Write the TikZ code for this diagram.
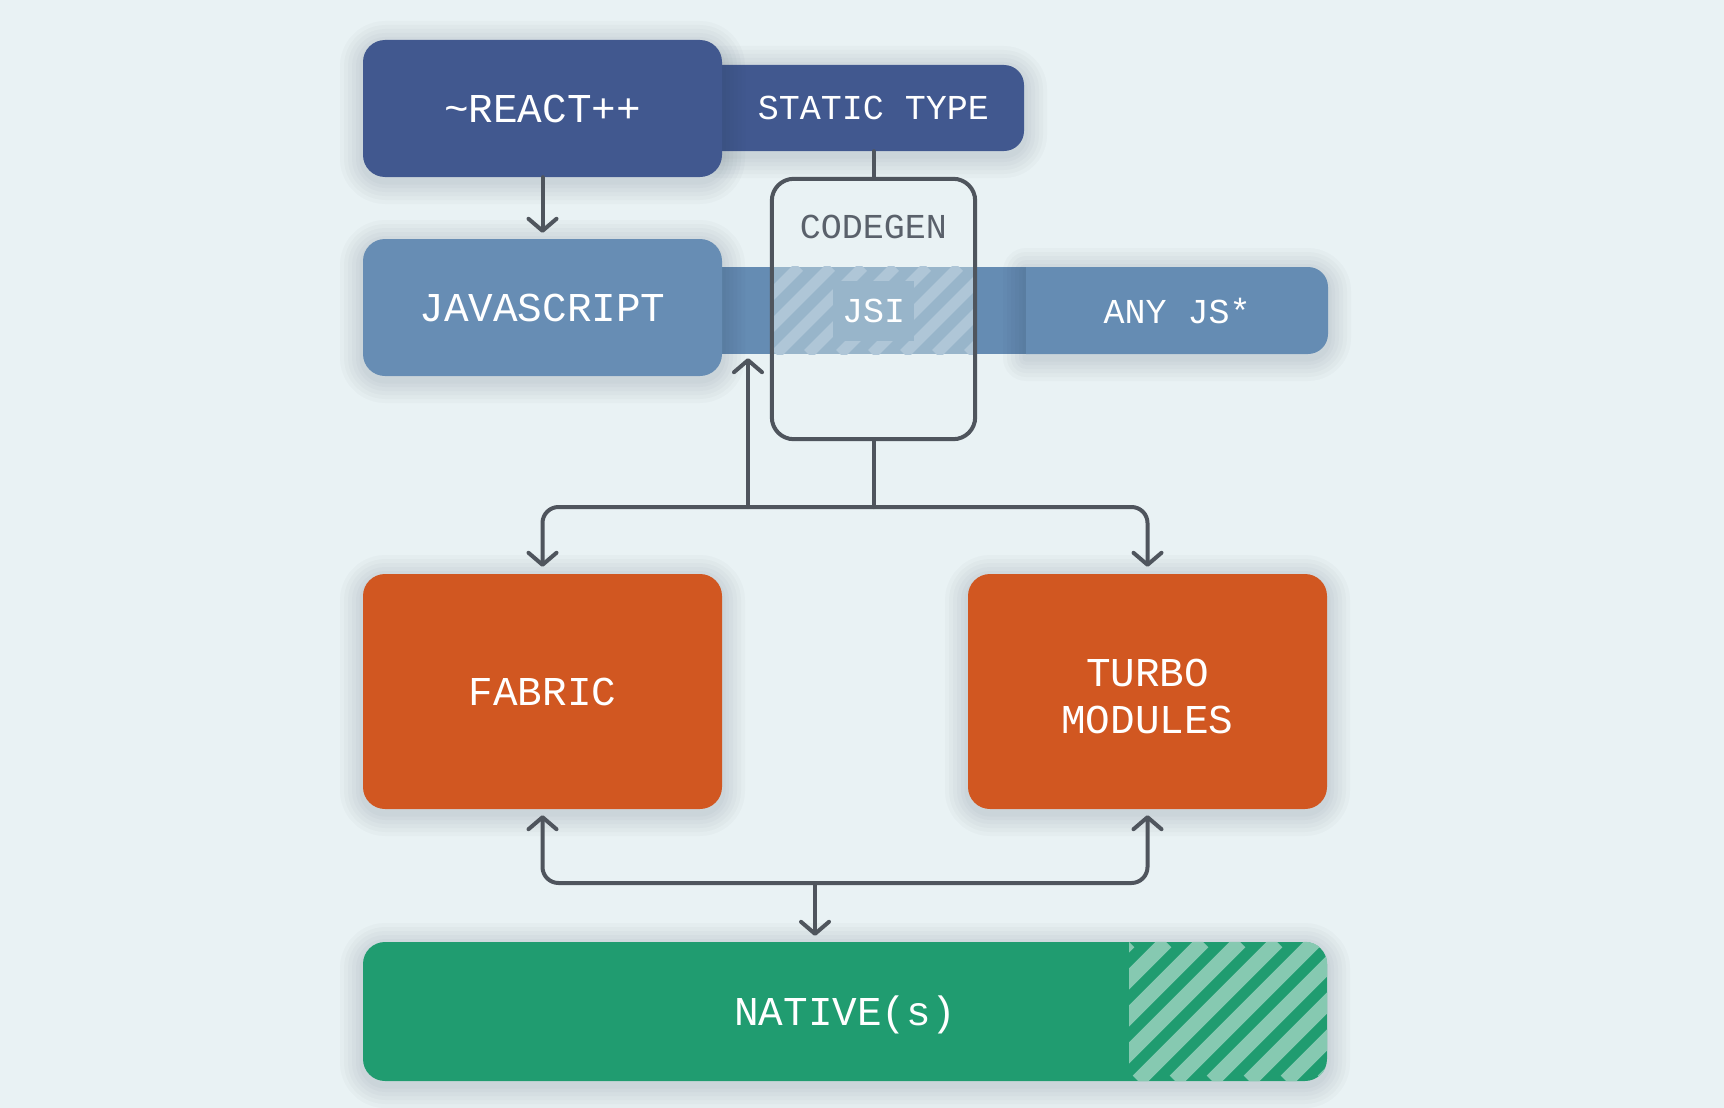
\documentclass[tikz,border=0pt]{standalone}
\usepackage{fontspec}
\setmonofont{Liberation Mono}
\usetikzlibrary{arrows.meta}
\definecolor{bgc}{HTML}{E9F2F4}
\definecolor{reactc}{HTML}{41588F}
\definecolor{jsc}{HTML}{678DB4}
\definecolor{barc}{HTML}{658CB3}
\definecolor{orangec}{HTML}{D15721}
\definecolor{greenc}{HTML}{209C70}
\definecolor{greenl}{HTML}{86C9B1}
\definecolor{jsib}{HTML}{98B5CA}
\definecolor{jsil}{HTML}{AFC6D7}
\definecolor{linec}{HTML}{4F555D}
\definecolor{greytxt}{HTML}{5A616B}
\definecolor{shadc}{HTML}{1E3040}
\newcommand{\bigtxt}{\fontsize{41}{46}\selectfont\ttfamily}
\newcommand{\smalltxt}{\fontsize{35}{42}\selectfont\ttfamily}
\tikzset{
 shadlayer/.style={preaction={draw=shadc, draw opacity=.025, line width=#1, line join=round, transform canvas={yshift=-4pt}}},
 shad/.style={shadlayer=46pt, shadlayer=38pt, shadlayer=30pt, shadlayer=22pt, shadlayer=14pt, shadlayer=7pt},
 bigbox/.style={shad, rounded corners=22pt, inner sep=0pt, text=white, font=\bigtxt, align=center},
 barbox/.style={shad, rounded corners=20pt, inner sep=0pt, text=white, font=\smalltxt},
 conn/.style={draw=linec, line width=4pt, line cap=round, line join=round},
 arrowtip/.style={-{Straight Barb[length=12pt,width=28pt,round]}},
}
\begin{document}
\begin{tikzpicture}[x=1pt,y=-1pt]
\useasboundingbox[fill=bgc] (0,0) rectangle (1724,1108);
% top row
\node[barbox, fill=reactc, minimum width=324pt, minimum height=86pt] (staticbar) at (862,108) {};
\node[font=\smalltxt, text=white] (static) at (873.5,108) {STATIC TYPE};
\node[bigbox, fill=reactc, minimum width=359pt, minimum height=137pt] (react) at (542.5,108.5) {\textasciitilde REACT++};
% js row
\node[fill=barc, minimum width=330pt, minimum height=87pt, inner sep=0pt] (jsibar) at (865,310.5) {};
\path[shad, fill=barc] (1026,267) [rounded corners=20pt] -- (1328,267) -- (1328,354) [sharp corners] -- (1026,354) -- cycle;
\node[minimum width=302pt, minimum height=87pt, inner sep=0pt, text=white, font=\smalltxt] (anyjs) at (1177,310.5) {ANY JS*};
\node[bigbox, fill=jsc, minimum width=359pt, minimum height=137pt] (javascript) at (542.5,307.5) {JAVASCRIPT};
% codegen
\node[fill=bgc, rounded corners=22pt, minimum width=203pt, minimum height=260pt, inner sep=0pt] (codegen) at (873.5,309) {};
\begin{scope}
\clip (codegen.west |- jsibar.north) rectangle (codegen.east |- jsibar.south);
\fill[jsib] (codegen.west |- jsibar.north) rectangle (codegen.east |- jsibar.south);
\foreach \i in {0,...,10} \draw[jsil, line width=11pt] (680+\i*32,354) -- ++(87,-87);
\end{scope}
\node[fill=jsib, inner xsep=9pt, minimum height=60pt, font=\smalltxt, text=white] (jsi) at (873.5,310.5) {JSI};
\node[font=\smalltxt, text=greytxt] (codegentxt) at (873.5,226.5) {CODEGEN};
\draw[linec, line width=4pt, rounded corners=22pt] (codegen.north west) rectangle (codegen.south east);
% bottom boxes
\node[bigbox, fill=orangec, minimum width=359pt, minimum height=235pt] (fabric) at (542.5,691.5) {FABRIC};
\node[bigbox, fill=orangec, minimum width=359pt, minimum height=235pt] (turbo) at (1147.5,691.5) {\rule{0pt}{38pt}TURBO\\[1pt]MODULES};
\node[bigbox, fill=greenc, minimum width=964pt, minimum height=139pt, text height=27pt, text depth=0pt] (native) at (845,1011.5) {NATIVE(s)};
\begin{scope}
\clip[rounded corners=22pt] (native.north west) rectangle (native.south east);
\clip (1129,930) rectangle (1340,1090);
\foreach \i in {0,...,10} \draw[greenl, line width=15pt] (990+\i*37,1081) -- ++(139,-139);
\end{scope}
% connectors
\coordinate (hub) at (873.5,507);
\coordinate (upfoot) at (748,507);
\coordinate (nhub) at (815,883);
\draw[conn] (staticbar.south -| static) -- (codegen.north);
\draw[conn, arrowtip, shorten >=6pt] (react.south) -- (javascript.north);
\draw[conn] (codegen.south) -- (hub);
\draw[conn, arrowtip, rounded corners=16pt, shorten >=7pt] (hub) -| (fabric.north);
\draw[conn, arrowtip, rounded corners=16pt, shorten >=7pt] (hub) -| (turbo.north);
\draw[conn, arrowtip, shorten >=4pt] (upfoot) -- (upfoot |- jsibar.south);
\draw[conn, arrowtip, rounded corners=16pt, shorten >=6pt] (nhub) -| (fabric.south);
\draw[conn, arrowtip, rounded corners=16pt, shorten >=6pt] (nhub) -| (turbo.south);
\draw[conn, arrowtip, shorten >=6pt] (nhub) -- (nhub |- native.north);
\end{tikzpicture}
\end{document}
